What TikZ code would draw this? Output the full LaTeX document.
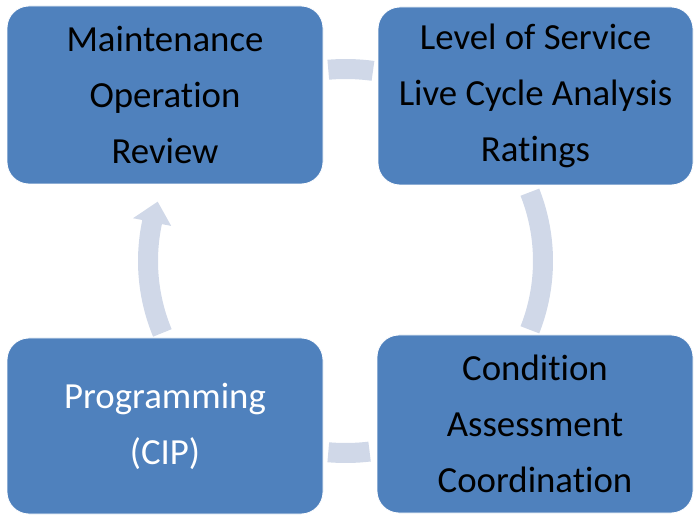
\documentclass[tikz,border=0pt]{standalone}
\usepackage{fontspec}
\setmainfont[Ligatures=NoCommon]{Carlito}
\usetikzlibrary{calc}
\definecolor{boxblue}{RGB}{79,129,189}
\definecolor{arcgray}{RGB}{208,216,232}
\begin{document}
\begin{tikzpicture}[x=1pt,y=1pt,
  box/.style={rounded corners=22pt, fill=boxblue, draw=white, line width=0.8pt, inner sep=0pt, align=center, font=\fontsize{36.8}{56}\selectfont},
  band/.style={fill=arcgray}]
\useasboundingbox (0,0) rectangle (697,515);
\coordinate (c) at (345.5,254);
\newcommand{\myband}[2]{%
  \fill[band] ($(c)+(#1:207.5pt and 202pt)$) arc[start angle=#1, end angle=#2, x radius=207.5pt, y radius=202pt]
    -- ($(c)+(#2:187.5pt and 182pt)$) arc[start angle=#2, end angle=#1, x radius=187.5pt, y radius=182pt] -- cycle;}
\myband{82}{95}
\myband{-21}{21}
\myband{265}{277}
% left arrow with head
\fill[band] ($(c)+(202:207.5pt and 202pt)$) arc[start angle=202, end angle=168.3, x radius=207.5pt, y radius=202pt]
  -- ($(c)+(168.3:217pt and 211pt)$)
  -- ($(c)+(162:197.5pt and 192pt)$) coordinate (tip)
  -- ($(c)+(168.3:178pt and 173pt)$)
  -- ($(c)+(168.3:187.5pt and 182pt)$) arc[start angle=168.3, end angle=202, x radius=187.5pt, y radius=182pt] -- cycle;
% boxes
\node[box, minimum width=316pt, minimum height=178pt] (maint) at (165,420) {Maintenance\\Operation\\Review};
\node[box, minimum width=315pt, minimum height=178pt] (los) at (535.5,419) {Level of Service\\Live Cycle Analysis\\Ratings};
\node[box, minimum width=316pt, minimum height=176pt, text=white] (prog) at (165,89) {Programming\\(CIP)};
\node[box, minimum width=316pt, minimum height=178pt] (cond) at (535,91) {Condition\\Assessment\\Coordination};
\end{tikzpicture}
\end{document}
